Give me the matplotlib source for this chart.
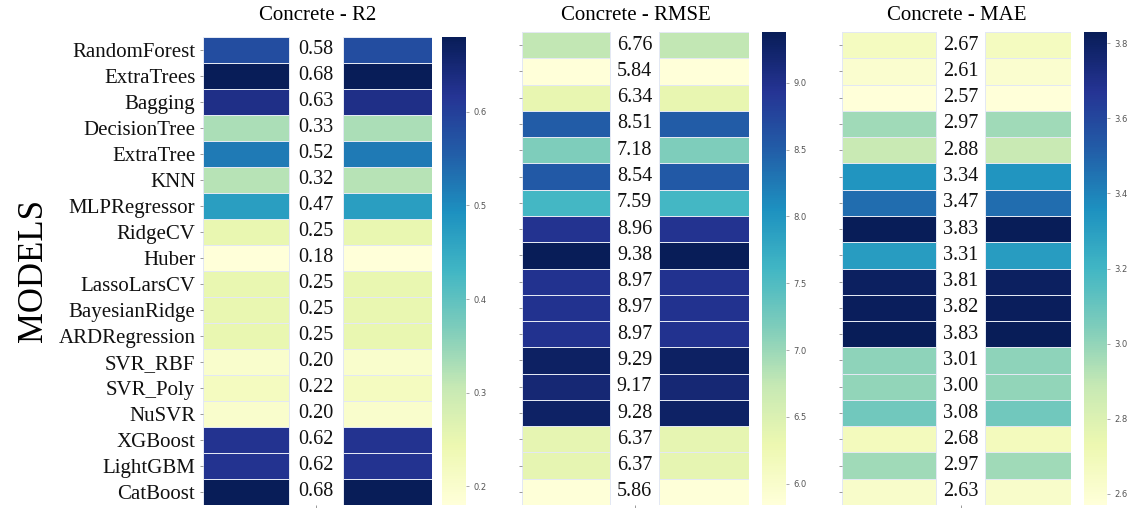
import numpy as np
import matplotlib
matplotlib.use("Agg")
import matplotlib.pyplot as plt
from matplotlib import colors


models = [
    "RandomForest", "ExtraTrees", "Bagging", "DecisionTree", "ExtraTree", "KNN",
    "MLPRegressor", "RidgeCV", "Huber", "LassoLarsCV", "BayesianRidge",
    "ARDRegression", "SVR_RBF", "SVR_Poly", "NuSVR", "XGBoost", "LightGBM",
    "CatBoost",
]
r2 = [0.58, 0.68, 0.63, 0.33, 0.52, 0.32, 0.47, 0.25, 0.18, 0.25, 0.25, 0.25,
      0.20, 0.22, 0.20, 0.62, 0.62, 0.68]
rmse = [6.76, 5.84, 6.34, 8.51, 7.18, 8.54, 7.59, 8.96, 9.38, 8.97, 8.97, 8.97,
        9.29, 9.17, 9.28, 6.37, 6.37, 5.86]
mae = [2.67, 2.61, 2.57, 2.97, 2.88, 3.34, 3.47, 3.83, 3.31, 3.81, 3.82, 3.83,
       3.01, 3.00, 3.08, 2.68, 2.97, 2.63]

titles = ["Concrete - R2", "Concrete - RMSE", "Concrete - MAE"]
cbar_ticks = [
    [0.2, 0.3, 0.4, 0.5, 0.6],
    [6.0, 6.5, 7.0, 7.5, 8.0, 8.5, 9.0],
    [2.6, 2.8, 3.0, 3.2, 3.4, 3.6, 3.8],
]

W, H = 1140, 508
SERIF = "Liberation Serif"

# pixel boxes: heatmap (x0, x1, ytop), colorbar (x0, x1), column split points
layout = [
    dict(ax=(203, 432, 37), cb=(442, 466), split=(289, 343)),
    dict(ax=(522, 749, 32), cb=(762, 786), split=(610, 659)),
    dict(ax=(842, 1071, 32), cb=(1084, 1107), split=(936, 985)),
]
ybot = 505


def frac(x0, x1, ytop, ybottom):
    return [x0 / W, 1 - ybottom / H, (x1 - x0) / W, (ybottom - ytop) / H]


fig = plt.figure(figsize=(W / 100, H / 100), dpi=100)
cmap = plt.get_cmap("YlGnBu")

for i, (vals, title, ticks, lay) in enumerate(zip([r2, rmse, mae], titles, cbar_ticks, layout)):
    x0, x1, ytop = lay["ax"]
    s0, s1 = lay["split"]
    ax = fig.add_axes(frac(x0, x1, ytop, ybot))
    v = np.array(vals)
    n = len(v)
    norm = colors.Normalize(vmin=v.min(), vmax=v.max())

    # coloured outer columns; the blank middle strip carries the value text
    yedges = np.arange(n + 1)
    col = v.reshape(-1, 1)
    for xa, xb in [(x0, s0), (s1, x1)]:
        ax.pcolormesh([xa, xb], yedges, col, cmap=cmap, norm=norm,
                      edgecolors="#e3e8f3", linewidth=0.5)
    for r, val in enumerate(v):
        ax.text((s0 + s1) / 2, r + 0.5, f"{val:.2f}", ha="center", va="center",
                fontsize=14.5, family=SERIF, color="#111111")

    ax.set_xlim(x0, x1)
    ax.set_ylim(n, 0)
    for sp in ax.spines.values():
        sp.set_visible(False)
    ax.set_xticks([(s0 + s1) / 2])
    ax.set_xticklabels([""])
    ax.set_yticks(np.arange(n) + 0.5)
    if i == 0:
        ax.set_yticklabels(models, family=SERIF, fontsize=15, color="#111111")
        ax.set_ylabel("MODELS", family=SERIF, fontsize=25, labelpad=6)
    else:
        ax.set_yticklabels([])
    ax.tick_params(axis="both", length=2.5, width=0.6, color="#888888", pad=3)
    fig.text((x0 + x1) / 2 / W, 1 - 15 / H, title, family=SERIF, fontsize=15,
             ha="center", va="center")

    c0, c1 = lay["cb"]
    cax = fig.add_axes(frac(c0, c1, ytop, ybot))
    sm = plt.cm.ScalarMappable(norm=norm, cmap=cmap)
    cb = fig.colorbar(sm, cax=cax, ticks=ticks)
    cb.outline.set_visible(False)
    cb.ax.tick_params(labelsize=6, length=2, width=0.5, color="#888888",
                      labelcolor="#555555")
    cb.ax.set_yticklabels([f"{t:.1f}" for t in ticks])

fig.savefig("out.png", dpi=100)
